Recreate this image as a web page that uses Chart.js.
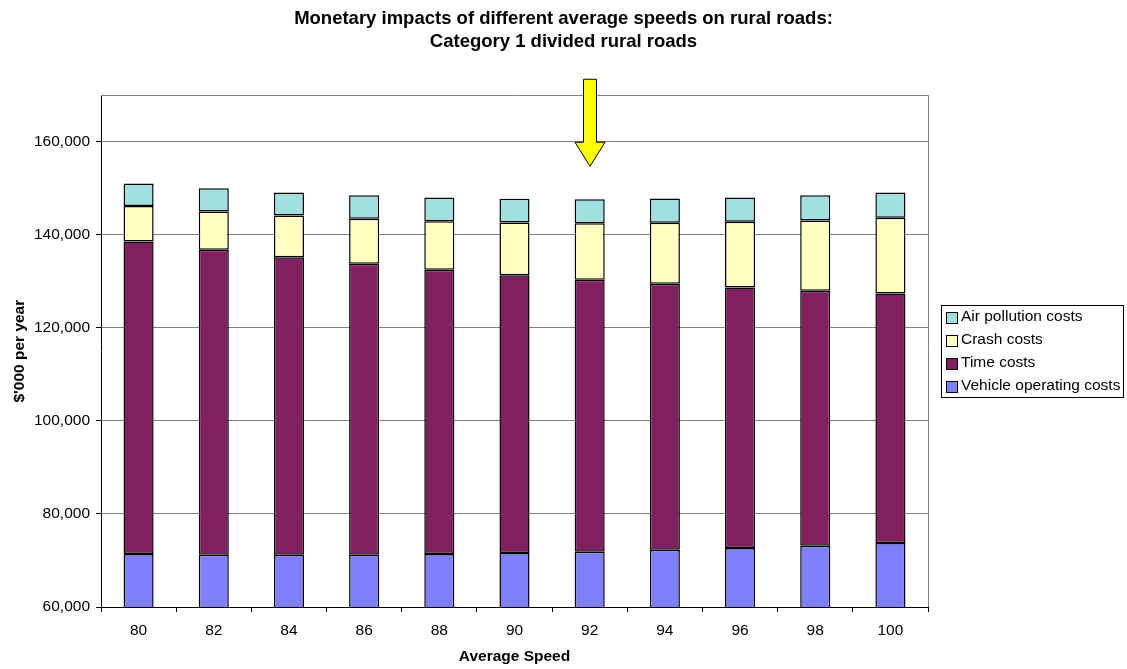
<!DOCTYPE html>
<html>
<head>
<meta charset="utf-8">
<title>Monetary impacts of different average speeds on rural roads</title>
<script src="https://cdn.jsdelivr.net/npm/chart.js@4"></script>
<style>
  html, body { margin: 0; padding: 0; background: #ffffff; }
  #wrap { width: 1127px; height: 669px; }
</style>
</head>
<body>
<div id="wrap"><canvas id="chart" width="1127" height="669"></canvas></div>
<script>
// Average speed categories (km/h)
const speeds = ['80', '82', '84', '86', '88', '90', '92', '94', '96', '98', '100'];

// Cost components, $'000 per year (stacked bottom to top)
const vehicleOperatingCosts = [71400, 71250, 71250, 71250, 71400, 71610, 71900, 72330, 72690, 73190, 73760];
const timeCosts             = [67150, 65520, 63950, 62510, 61070, 59720, 58420, 57130, 55980, 54770, 53620];
const crashCosts            = [7620, 8240, 8950, 9680, 10470, 11320, 12190, 13120, 14130, 15120, 16280];
const airPollutionCosts     = [4860, 4990, 4950, 5090, 5080, 5090, 5160, 5220, 5220, 5450, 5440];

// Value axis ticks
const valueTicks = [60000, 80000, 100000, 120000, 140000, 160000];
const valueMin = 60000;
const valueMax = 170000;

// Speed highlighted by the arrow
const highlightedSpeed = '92';

const FONT = "'Liberation Sans', Arial, Helvetica, sans-serif";

// Boxed legend on the right, listing series top-down as they appear in the stack
const boxedLegend = {
  id: 'boxedLegend',
  afterDraw(chart) {
    const ctx = chart.ctx;
    const area = chart.chartArea;
    const items = chart.data.datasets.slice().reverse();
    const rowH = 23;
    const w = 182, h = items.length * rowH;
    const left = Math.round(area.right) + 13;
    const top = Math.round((area.top + area.bottom) / 2 - h / 2);
    ctx.save();
    ctx.fillStyle = '#ffffff';
    ctx.fillRect(left, top, w, h);
    ctx.strokeStyle = '#000000';
    ctx.lineWidth = 1;
    ctx.strokeRect(left + 0.5, top + 0.5, w, h);
    ctx.font = '15.5px ' + FONT;
    ctx.textBaseline = 'middle';
    ctx.textAlign = 'left';
    items.forEach((ds, i) => {
      const cy = top + rowH * i + rowH / 2 + 0.5;
      const by = Math.round(cy - 5.5) + 0.5;
      ctx.fillStyle = ds.backgroundColor;
      ctx.fillRect(left + 5.5, by, 11, 11);
      ctx.strokeStyle = '#000000';
      ctx.strokeRect(left + 5.5, by, 11, 11);
      ctx.fillStyle = '#000000';
      ctx.fillText(ds.label, left + 20, cy);
    });
    ctx.restore();
  }
};

// Grey frame on the top and right of the plot area
const plotFrame = {
  id: 'plotFrame',
  beforeDatasetsDraw(chart) {
    const { ctx, chartArea: a } = chart;
    ctx.save();
    ctx.strokeStyle = '#808080';
    ctx.lineWidth = 1;
    ctx.beginPath();
    ctx.moveTo(a.left, Math.round(a.top) + 0.5);
    ctx.lineTo(Math.round(a.right) + 0.5, Math.round(a.top) + 0.5);
    ctx.lineTo(Math.round(a.right) + 0.5, a.bottom);
    ctx.stroke();
    ctx.restore();
  }
};

// Yellow down arrow pointing at the highlighted speed
const speedArrow = {
  id: 'speedArrow',
  afterDraw(chart) {
    const { ctx, chartArea: a } = chart;
    const xs = chart.scales.x;
    const cx = Math.round(xs.getPixelForValue(speeds.indexOf(highlightedSpeed)));
    const top = a.top - 16;
    const neck = a.top + 47;
    const tip = a.top + 71;
    const shaft = 6.5, head = 15;
    ctx.save();
    ctx.beginPath();
    ctx.moveTo(cx - shaft, top);
    ctx.lineTo(cx + shaft, top);
    ctx.lineTo(cx + shaft, neck);
    ctx.lineTo(cx + head, neck);
    ctx.lineTo(cx, tip);
    ctx.lineTo(cx - head, neck);
    ctx.lineTo(cx - shaft, neck);
    ctx.closePath();
    ctx.fillStyle = '#ffff00';
    ctx.fill();
    ctx.strokeStyle = '#000000';
    ctx.lineWidth = 1;
    ctx.stroke();
    ctx.restore();
  }
};

const barStyle = { borderColor: '#000000', borderWidth: 1.5, borderSkipped: false, categoryPercentage: 1.0, barPercentage: 0.4 };

new Chart(document.getElementById('chart'), {
  type: 'bar',
  data: {
    labels: speeds,
    datasets: [
      Object.assign({ label: 'Vehicle operating costs', data: vehicleOperatingCosts, backgroundColor: '#8080ff' }, barStyle),
      Object.assign({ label: 'Time costs', data: timeCosts, backgroundColor: '#802060' }, barStyle),
      Object.assign({ label: 'Crash costs', data: crashCosts, backgroundColor: '#ffffc0' }, barStyle),
      Object.assign({ label: 'Air pollution costs', data: airPollutionCosts, backgroundColor: '#a0e0e0' }, barStyle)
    ]
  },
  options: {
    responsive: false,
    animation: false,
    layout: { padding: 0 },
    plugins: {
      legend: { display: false },
      tooltip: { enabled: false },
      title: {
        display: true,
        text: ['Monetary impacts of different average speeds on rural roads:', 'Category 1 divided rural roads'],
        color: '#000000',
        font: { family: FONT, size: 18.5, weight: 'bold', lineHeight: 1.25 },
        padding: { top: 7, bottom: 42 }
      }
    },
    scales: {
      x: {
        stacked: true,
        offset: true,
        grid: { display: true, drawOnChartArea: false, drawTicks: true, tickLength: 5, color: '#000000', offset: true },
        border: { display: true, color: '#000000', width: 1 },
        ticks: { color: '#000000', font: { family: FONT, size: 15.5 }, padding: 9, maxRotation: 0 },
        title: { display: true, text: 'Average Speed', color: '#000000', font: { family: FONT, size: 15.5, weight: 'bold' }, padding: { top: 0, bottom: 3 } },
        afterFit(scale) { scale.height = 62; }
      },
      y: {
        stacked: true,
        min: valueMin,
        max: valueMax,
        afterBuildTicks(scale) { scale.ticks = valueTicks.map(v => ({ value: v })); },
        grid: { color: '#808080', tickColor: '#000000', tickLength: 5, drawTicks: true },
        border: { display: true, color: '#000000', width: 1 },
        ticks: {
          color: '#000000',
          font: { family: FONT, size: 15.5 },
          padding: 6,
          callback: v => Number(v).toLocaleString('en-US')
        },
        title: { display: true, text: "$'000 per year", color: '#000000', font: { family: FONT, size: 15.5, weight: 'bold' }, padding: { top: 10, bottom: 0 } },
        afterFit(scale) { scale.width = 101; }
      },
      // Empty right-hand axis that reserves room for the boxed legend
      legendSpace: {
        type: 'linear',
        position: 'right',
        display: true,
        grid: { display: false, drawTicks: false },
        border: { display: false },
        ticks: { display: false },
        afterFit(scale) { scale.width = 199; }
      }
    }
  },
  plugins: [plotFrame, speedArrow, boxedLegend]
});
</script>
</body>
</html>
